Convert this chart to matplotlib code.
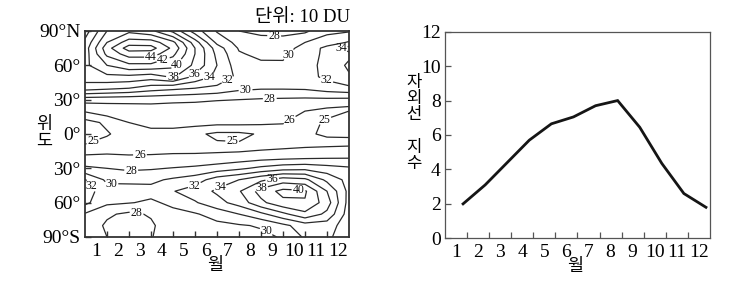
import matplotlib
matplotlib.use("Agg")
import matplotlib.pyplot as plt
import numpy as np

plt.rcParams['font.family'] = ['Liberation Serif', 'Noto Sans CJK KR']

# 왼쪽: 위도-월별 오존 전량 (단위 10 DU), 격자값은 그림에서 읽은 값
month_edges = np.arange(13)          # 0 = 1월 시작, 12 = 12월 끝
lats = np.array([90, 80, 75, 70, 60, 50, 40, 30, 20, 10, 0, -10, -20,
                 -30, -40, -50, -60, -70, -80, -90])
ozone = np.array([
    [35.0, 40.0, 41.5, 40.5, 37.5, 33.0, 29.8, 28.0, 27.5, 27.3, 27.6, 29.5, 29.8],
    [36.5, 42.0, 45.0, 45.0, 42.5, 37.0, 31.5, 29.3, 28.8, 28.9, 30.0, 31.0, 32.2],
    [37.0, 43.2, 47.0, 46.8, 43.5, 38.0, 33.0, 29.8, 29.2, 29.3, 30.6, 32.6, 34.8],
    [37.0, 42.5, 45.0, 45.0, 42.5, 38.0, 33.5, 30.2, 29.5, 29.6, 31.0, 32.5, 33.6],
    [37.5, 40.0, 41.5, 41.5, 40.5, 37.5, 34.0, 30.8, 30.4, 30.3, 31.0, 32.8, 34.3],
    [37.0, 37.5, 37.5, 37.0, 38.3, 35.5, 33.5, 31.5, 31.0, 31.0, 31.2, 32.5, 33.8],
    [35.0, 34.5, 34.0, 33.0, 32.5, 32.0, 31.5, 30.5, 30.2, 30.2, 30.3, 31.0, 31.5],
    [28.8, 28.7, 28.6, 28.6, 28.4, 28.3, 28.1, 28.0, 27.8, 27.7, 27.6, 27.6, 27.5],
    [26.1, 26.6, 26.9, 27.0, 27.0, 27.0, 27.0, 26.9, 26.8, 26.5, 26.0, 25.4, 25.0],
    [24.6, 25.2, 26.0, 26.3, 26.4, 26.4, 26.3, 26.3, 26.2, 26.05, 25.5, 24.8, 24.6],
    [24.6, 24.9, 25.5, 25.7, 25.6, 25.2, 24.8, 24.8, 25.1, 25.6, 25.3, 24.7, 24.6],
    [25.05, 25.4, 25.5, 25.6, 25.5, 25.3, 25.15, 25.1, 25.3, 25.5, 25.7, 25.8, 25.9],
    [26.2, 26.2, 26.1, 26.1, 26.2, 26.3, 26.5, 26.7, 27.0, 27.2, 27.4, 27.6, 27.7],
    [28.4, 28.0, 27.6, 27.8, 28.1, 28.4, 28.9, 29.6, 30.5, 31.2, 31.4, 30.8, 30.3],
    [32.1, 29.6, 29.6, 29.6, 30.3, 31.0, 33.0, 34.0, 35.6, 37.0, 36.5, 33.5, 31.3],
    [33.0, 30.8, 30.7, 30.6, 31.9, 33.0, 34.3, 35.8, 38.8, 40.6, 40.3, 36.0, 31.4],
    [32.5, 30.4, 30.1, 29.7, 30.4, 31.8, 33.3, 34.8, 37.5, 39.5, 39.8, 37.0, 31.2],
    [29.8, 28.3, 27.6, 28.2, 29.5, 29.8, 30.8, 32.0, 33.5, 35.5, 37.5, 35.5, 31.0],
    [29.2, 27.7, 27.2, 27.7, 29.2, 29.3, 29.5, 29.8, 30.2, 31.5, 33.0, 33.0, 30.8],
    [29.0, 28.0, 27.3, 27.9, 29.0, 29.1, 29.2, 29.3, 29.5, 30.2, 32.3, 32.5, 30.5],
])
levels = [25, 26, 28, 30, 32, 34, 36, 38, 40, 42, 44, 46]
lat_ticks = [-90, -60, -30, 0, 30, 60, 90]
lat_labels = ['90°S', '60°', '30°', '0°', '30°', '60°', '90°N']

# 오른쪽: 월별 자외선 지수
months = np.arange(1, 13)
uv_index = [2.0, 3.1, 4.4, 5.7, 6.65, 7.05, 7.7, 8.0, 6.45, 4.35, 2.6, 1.8]
month_labels = [str(m) for m in months]

fig = plt.figure(figsize=(7.35, 2.81), dpi=100)

# ---- 왼쪽 등치선도 (값마다 따로 그려서 숫자를 원하는 선에 붙인다)
ax1 = fig.add_axes([0.1156, 0.1566, 0.3592, 0.7331])
lines_by_level = {}
for lvl in levels:
    lines_by_level[lvl] = ax1.contour(month_edges, lats[::-1], ozone[::-1],
                                      levels=[lvl], colors='#2a2a2a',
                                      linewidths=0.9)
# (값, 대략 위치) - 그림 속 숫자 자리
label_spots = [(44, 3.0, 66), (42, 3.6, 62), (40, 4.3, 59), (38, 4.0, 48),
               (36, 5.0, 52), (34, 5.7, 47), (32, 6.5, 47), (30, 7.3, 38),
               (28, 8.4, 31), (28, 8.6, 86), (30, 9.5, 65), (34, 11.4, 76),
               (32, 11.0, 48), (26, 9.4, 9), (25, 11.0, 9), (25, 0.4, -8),
               (25, 6.7, -3), (26, 2.5, -18), (28, 2.1, -32), (32, 0.3, -45),
               (30, 1.2, -43), (32, 4.95, -43), (34, 6.1, -45), (36, 8.5, -38),
               (38, 8.0, -47), (40, 9.7, -52), (30, 8.4, -79), (28, 2.3, -76)]
for lvl, lx, ly in label_spots:
    txts = ax1.clabel(lines_by_level[lvl], fontsize=8.5, fmt='%d', inline=True,
                      inline_spacing=1, colors='#111111', manual=[(lx, ly)])
    for t in txts:
        t.set_rotation(0)
ax1.set_xlim(0, 12)
ax1.set_ylim(-90, 90)
ax1.set_yticks(lat_ticks, labels=lat_labels)
ax1.set_xticks(np.arange(1, 12), labels=[''] * 11)
ax1.set_xticks(np.arange(0.5, 12), labels=month_labels, minor=True)
ax1.tick_params(axis='both', which='major', direction='in', length=4,
                width=1, color='#333333', labelsize=14, pad=3)
ax1.tick_params(axis='x', which='minor', length=0, labelsize=14, pad=4)
for s in ax1.spines.values():
    s.set_linewidth(1.3)
    s.set_color('#333333')

fig.text(0.476, 0.9395, '단위: 10 DU', ha='right', va='center', fontsize=13.5)
fig.text(0.0605, 0.526, '위\n도', ha='center', va='center', fontsize=12.5,
         linespacing=1.05)
fig.text(0.2925, 0.055, '월', ha='center', va='center', fontsize=12.5)

# ---- 오른쪽 꺾은선
ax2 = fig.add_axes([0.6054, 0.1520, 0.3605, 0.7352])
ax2.plot(months - 0.18, uv_index, color='#151515', linewidth=2.0,
         solid_joinstyle='miter')
ax2.set_xlim(0, 12)
ax2.set_ylim(0, 12)
ax2.set_yticks(np.arange(0, 13, 2))
ax2.set_xticks(np.arange(1, 12), labels=[''] * 11)
ax2.set_xticks(np.arange(0.5, 12), labels=month_labels, minor=True)
ax2.tick_params(axis='both', which='major', direction='in', length=4,
                width=0.9, color='#555555', labelsize=14, pad=3)
ax2.tick_params(axis='x', which='minor', length=0, labelsize=14, pad=4)
for s in ax2.spines.values():
    s.set_linewidth(0.9)
    s.set_color('#555555')

fig.text(0.563, 0.648, '자\n외\n선', ha='center', va='center', fontsize=12,
         linespacing=1.0)
fig.text(0.563, 0.445, '지\n수', ha='center', va='center', fontsize=12,
         linespacing=1.0)
fig.text(0.782, 0.05, '월', ha='center', va='center', fontsize=12.5)

fig.savefig('out.png', dpi=100)
